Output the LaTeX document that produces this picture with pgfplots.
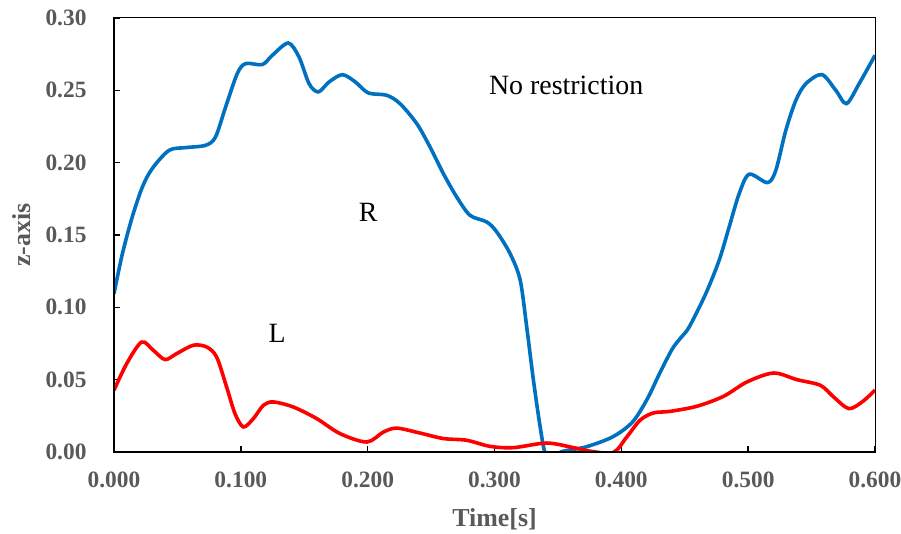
\documentclass[border=0pt]{standalone}
\usepackage{pgfplots}
\pgfplotsset{compat=1.18}
\usepackage{fontspec}
\setmainfont{Liberation Serif}
\definecolor{xlblue}{HTML}{0070C0}
\definecolor{xlred}{HTML}{FF0000}
\definecolor{lblgray}{HTML}{595959}
\begin{document}
\begin{tikzpicture}
\begin{axis}[
  scale only axis, width=761bp, height=434bp,
  xmin=0, xmax=0.6, ymin=0, ymax=0.3,
  xtick={0,0.1,0.2,0.3,0.4,0.5,0.6},
  ytick={0,0.05,0.1,0.15,0.2,0.25,0.3},
  xtick pos=bottom, ytick pos=left,
  tick align=inside, major tick length=6bp,
  every tick/.style={black, line width=1.5bp},
  axis line style={black, line width=1bp},
  /pgf/number format/assume math mode=true,
  xticklabel style={/pgf/number format/fixed, /pgf/number format/fixed zerofill, /pgf/number format/precision=3, yshift=-16bp},
  yticklabel style={/pgf/number format/fixed, /pgf/number format/fixed zerofill, /pgf/number format/precision=2, xshift=-24bp},
  tick label style={font=\fontsize{23.5}{26}\selectfont\bfseries, text=lblgray},
  xlabel={Time[s]}, ylabel={z-axis},
  label style={font=\fontsize{26}{30}\selectfont\bfseries, text=lblgray},
  xlabel style={at={(axis description cs:0.5,-0.155)}, anchor=center},
  ylabel style={at={(axis description cs:-0.121,0.5)}, anchor=center},
  clip=true,
]
\addplot[xlblue, line width=3.6bp, smooth, tension=0.5] coordinates {
(0,0.1095) (0.0066,0.137) (0.0144,0.1625) (0.0223,0.183) (0.0302,0.196)
(0.0434,0.2085) (0.0565,0.2104) (0.0722,0.212) (0.080,0.2177) (0.088,0.2385)
(0.0972,0.2616) (0.1038,0.2685) (0.1169,0.2678) (0.1248,0.2742) (0.1374,0.2827)
(0.1459,0.273) (0.1538,0.2546) (0.1611,0.2489) (0.1696,0.2558) (0.1800,0.2608)
(0.1900,0.2560) (0.2005,0.2482) (0.2150,0.2466) (0.2255,0.2408) (0.2387,0.2270)
(0.2492,0.2108) (0.2597,0.1924) (0.2702,0.1763) (0.2807,0.1636) (0.2939,0.1590)
(0.3018,0.1521) (0.3123,0.1371) (0.3202,0.119) (0.3254,0.0864) (0.3307,0.0496)
(0.3360,0.0173) (0.3400,-0.001) (0.3460,-0.006) (0.3523,0.0) (0.372,0.0035)
(0.393,0.0104) (0.4088,0.0207) (0.4206,0.0369) (0.4300,0.0540) (0.440,0.0710)
(0.4469,0.0790) (0.4535,0.0864) (0.4666,0.1095) (0.4771,0.1325) (0.485,0.1555)
(0.4929,0.1786) (0.5008,0.192) (0.5152,0.1862) (0.5218,0.1947) (0.5297,0.2224)
(0.5376,0.2431) (0.5455,0.2546) (0.5581,0.2609) (0.5691,0.250) (0.5775,0.2408)
(0.5875,0.2546) (0.600,0.2742)
};
\addplot[xlred, line width=3.6bp, smooth, tension=0.5] coordinates {
(0,0.0427) (0.01,0.0611) (0.0218,0.0760) (0.0310,0.0703) (0.0402,0.0639)
(0.0494,0.068) (0.0625,0.0738) (0.0730,0.0726) (0.0809,0.0657) (0.0888,0.0449)
(0.0954,0.0265) (0.1020,0.0173) (0.1099,0.0231) (0.1178,0.0323) (0.1257,0.0346)
(0.1414,0.0311) (0.1598,0.0231) (0.1782,0.0127) (0.1993,0.0069) (0.2124,0.0138)
(0.2229,0.0165) (0.2413,0.0131) (0.2597,0.0093) (0.2781,0.0081) (0.2965,0.0039)
(0.3149,0.003) (0.3412,0.0062) (0.3623,0.003) (0.378,0.0002) (0.394,-0.0002)
(0.4043,0.0104) (0.4148,0.0220) (0.4253,0.027) (0.4385,0.0281) (0.4595,0.0316)
(0.4806,0.0385) (0.4990,0.0484) (0.5200,0.0546) (0.5385,0.0500) (0.5569,0.0461)
(0.5674,0.038) (0.5793,0.030) (0.5898,0.0346) (0.600,0.0427)
};
\node[font=\fontsize{28}{32}\selectfont] at (axis cs:0.3565,0.2535) {No restriction};
\node[font=\fontsize{28}{32}\selectfont] at (axis cs:0.2005,0.1657) {R};
\node[font=\fontsize{28}{32}\selectfont] at (axis cs:0.1286,0.082) {L};
\draw[black, line width=2.4bp] (rel axis cs:0,1) -- (rel axis cs:0,0) -- (rel axis cs:1,0);
\end{axis}
\pgfresetboundingbox
\path[use as bounding box] (current axis.south west) ++(-114bp,-82bp) rectangle ++(901bp,534bp);
\end{tikzpicture}
\end{document}
